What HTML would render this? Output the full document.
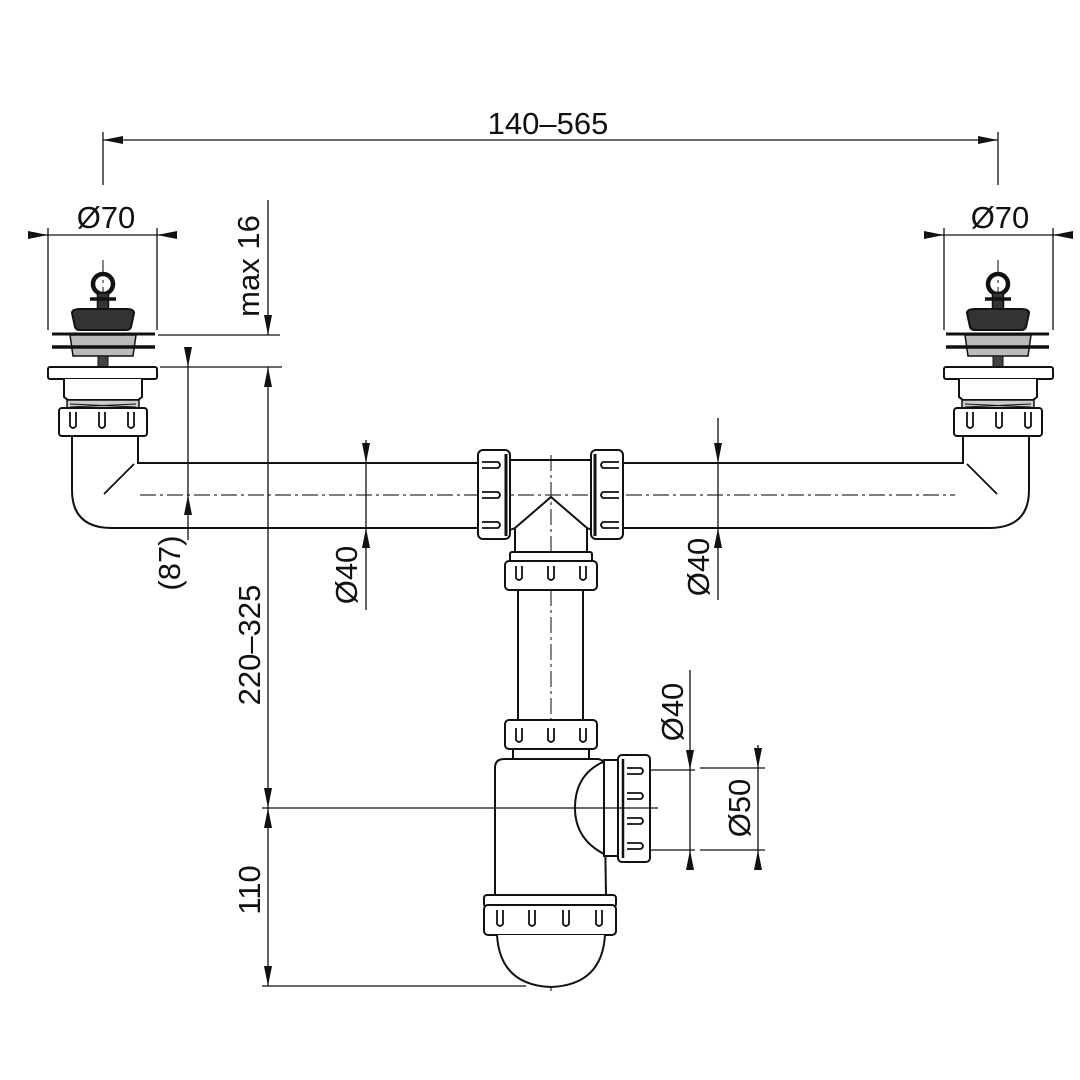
<!DOCTYPE html>
<html><head><meta charset="utf-8"><style>
html,body{margin:0;padding:0;background:#fff;}
svg{display:block}
text{font-family:"Liberation Sans",sans-serif;font-size:31px;fill:#111}
</style></head><body>
<svg width="1080" height="1080" viewBox="0 0 1080 1080" xmlns="http://www.w3.org/2000/svg">
<defs>
<marker id="a" viewBox="0 0 20 8" refX="20" refY="4" markerWidth="20" markerHeight="8" markerUnits="userSpaceOnUse" orient="auto-start-reverse">
<path d="M0,0 L20,4 L0,8 Z" fill="#111"/></marker>
<g id="str" stroke="#111" stroke-width="2" fill="#fff">
  <circle cx="103" cy="284" r="10" fill="none" stroke-width="4.5"/>
  <rect x="97.5" y="293" width="11" height="16" fill="#333" stroke-width="1.5"/>
  <path d="M90,299 h26" stroke-width="3.5"/>
  <path d="M72,313 Q72,309 80,309 H126 Q134,309 134,313 L131,327 Q130,330 126,330 H80 Q76,330 75,327 Z" fill="#333"/>
  <path d="M70,335 H136 L133,356 H73 Z" fill="#bbb" stroke-width="1.5"/>
  <line x1="52" y1="334" x2="155" y2="334" stroke-width="3"/>
  <line x1="52" y1="347" x2="155" y2="347" stroke-width="3.5"/>
  <rect x="98" y="356" width="10" height="11" fill="#444" stroke-width="1"/>
  <rect x="48" y="367" width="109" height="12" rx="2"/>
  <path d="M64,379 V397 L68,400 H138 L142,397 V379"/>
  <rect x="67" y="400" width="72" height="10" fill="#ccc" stroke-width="1.5"/>
  <path d="M70,404 L136,407 M70,407 L136,404" stroke-width="1"/>
  <rect x="59" y="408" width="88" height="28" rx="3"/>
  <path d="M70,412 v14 q3,4 6,0 v-14 M99,412 v14 q3,4 6,0 v-14 M128,412 v14 q3,4 6,0 v-14" fill="none" stroke-width="1.8"/>
  <path d="M72,436 V490 Q72,528 112,528 H478 M138,436 V463 H478" fill="none"/>
  <line x1="134" y1="464" x2="104" y2="494" stroke-width="1.8"/>
  <rect x="478" y="450" width="32" height="89" rx="5"/>
  <line x1="506" y1="454" x2="506" y2="536" stroke-width="3"/>
  <path d="M482,462 h16 q4,3 0,6 h-16 M482,492 h16 q4,3 0,6 h-16 M482,522 h16 q4,3 0,6 h-16" fill="none" stroke-width="1.8"/>
</g>
</defs>

<g stroke="#333" stroke-width="1.2" stroke-dasharray="16,4,3,4" fill="none">
  <line x1="140" y1="495" x2="955" y2="495"/>
  <line x1="551" y1="455" x2="551" y2="995"/>
  <line x1="103" y1="260" x2="103" y2="430"/>
  <line x1="998" y1="260" x2="998" y2="430"/>
</g>

<use href="#str"/>
<use href="#str" transform="translate(1101,0) scale(-1,1)"/>

<g stroke="#111" stroke-width="2" fill="#fff">
  <path d="M510,460 H592 M510,530 L515,528 L551,497 L587,528 L592,530" fill="none"/>
  <path d="M515,528 V555 M587,528 V555" fill="none"/>
  <rect x="510" y="552" width="82" height="10" rx="2"/>
  <rect x="505" y="561" width="92" height="29" rx="4"/>
  <path d="M516,566 v12 q3,4 6,0 v-12 M548,566 v12 q3,4 6,0 v-12 M580,566 v12 q3,4 6,0 v-12" fill="none" stroke-width="1.8"/>
  <path d="M518,590 V720 M583,590 V720" fill="none"/>
  <rect x="505" y="720" width="92" height="29" rx="4"/>
  <path d="M516,728 v12 q3,4 6,0 v-12 M548,728 v12 q3,4 6,0 v-12 M580,728 v12 q3,4 6,0 v-12" fill="none" stroke-width="1.8"/>
  <rect x="513" y="749" width="76" height="10"/>
  <path d="M495,895 V768 Q495,759 504,759 H598 Q606,760 604,770 L606,895 Z"/>
  <path d="M603,762 Q575,775 575,808 Q575,840 606,855" fill="none"/>
  <rect x="604" y="760" width="16" height="96" fill="#fff"/>
  <rect x="618" y="755" width="32" height="107" rx="4"/>
  <line x1="623" y1="759" x2="623" y2="858" stroke-width="2.5"/>
  <path d="M627,768 h14 q4,3 0,6 h-14 M627,793 h14 q4,3 0,6 h-14 M627,818 h14 q4,3 0,6 h-14 M627,843 h14 q4,3 0,6 h-14" fill="none" stroke-width="1.8"/>
  <rect x="484" y="895" width="132" height="12" rx="3"/>
  <rect x="484" y="905" width="132" height="30" rx="4"/>
  <path d="M497,910 v14 q3,4 6,0 v-14 M529,910 v14 q3,4 6,0 v-14 M563,910 v14 q3,4 6,0 v-14 M596,910 v14 q3,4 6,0 v-14" fill="none" stroke-width="1.8"/>
  <path d="M497,935 Q500,985 551,987 Q602,985 605,935" />
</g>

<g stroke="#111" stroke-width="1.3" fill="none">
  <line x1="103" y1="140" x2="998" y2="140" marker-start="url(#a)" marker-end="url(#a)"/>
  <line x1="103" y1="132" x2="103" y2="185"/>
  <line x1="998" y1="132" x2="998" y2="185"/>

  <line x1="36" y1="235" x2="48" y2="235" marker-end="url(#a)"/>
  <line x1="48" y1="235" x2="157" y2="235"/>
  <line x1="174" y1="235" x2="157" y2="235" marker-end="url(#a)"/>
  <line x1="48" y1="228" x2="48" y2="330"/>
  <line x1="157" y1="228" x2="157" y2="330"/>

  <line x1="931" y1="235" x2="944" y2="235" marker-end="url(#a)"/>
  <line x1="944" y1="235" x2="1053" y2="235"/>
  <line x1="1066" y1="235" x2="1053" y2="235" marker-end="url(#a)"/>
  <line x1="944" y1="228" x2="944" y2="330"/>
  <line x1="1053" y1="228" x2="1053" y2="330"/>

  <line x1="268" y1="200" x2="268" y2="335" marker-end="url(#a)"/>
  <line x1="158" y1="335" x2="280" y2="335"/>
  <line x1="160" y1="367" x2="282" y2="367"/>
  <line x1="268" y1="367" x2="268" y2="808" marker-start="url(#a)" marker-end="url(#a)"/>
  <line x1="268" y1="808" x2="268" y2="986" marker-start="url(#a)" marker-end="url(#a)"/>
  <line x1="262" y1="808" x2="658" y2="808"/>
  <line x1="262" y1="986" x2="526" y2="986"/>

  <line x1="188" y1="347" x2="188" y2="367" marker-end="url(#a)"/>
  <line x1="188" y1="367" x2="188" y2="495"/>
  <line x1="188" y1="540" x2="188" y2="495" marker-end="url(#a)"/>

  <line x1="366" y1="440" x2="366" y2="463" marker-end="url(#a)"/>
  <line x1="366" y1="463" x2="366" y2="528"/>
  <line x1="366" y1="610" x2="366" y2="528" marker-end="url(#a)"/>
  <line x1="718" y1="418" x2="718" y2="463" marker-end="url(#a)"/>
  <line x1="718" y1="463" x2="718" y2="528"/>
  <line x1="718" y1="600" x2="718" y2="528" marker-end="url(#a)"/>

  <line x1="690" y1="670" x2="690" y2="770" marker-end="url(#a)"/>
  <line x1="690" y1="770" x2="690" y2="850"/>
  <line x1="690" y1="870" x2="690" y2="850" marker-end="url(#a)"/>
  <line x1="650" y1="770" x2="695" y2="770"/>
  <line x1="650" y1="850" x2="695" y2="850"/>
  <line x1="758" y1="745" x2="758" y2="768" marker-end="url(#a)"/>
  <line x1="758" y1="768" x2="758" y2="850"/>
  <line x1="758" y1="868" x2="758" y2="850" marker-end="url(#a)"/>
  <line x1="700" y1="768" x2="765" y2="768"/>
  <line x1="700" y1="850" x2="765" y2="850"/>
</g>

<text x="548" y="134" text-anchor="middle">140–565</text>
<text x="106" y="228" text-anchor="middle">Ø70</text>
<text x="1000" y="228" text-anchor="middle">Ø70</text>
<text transform="translate(259,266) rotate(-90)" text-anchor="middle">max 16</text>
<text transform="translate(180,563) rotate(-90)" text-anchor="middle">(87)</text>
<text transform="translate(260,645) rotate(-90)" text-anchor="middle">220–325</text>
<text transform="translate(260,890) rotate(-90)" text-anchor="middle">110</text>
<text transform="translate(357,575) rotate(-90)" text-anchor="middle">Ø40</text>
<text transform="translate(709,567) rotate(-90)" text-anchor="middle">Ø40</text>
<text transform="translate(683,712) rotate(-90)" text-anchor="middle">Ø40</text>
<text transform="translate(750,808) rotate(-90)" text-anchor="middle">Ø50</text>
</svg>
</body></html>
